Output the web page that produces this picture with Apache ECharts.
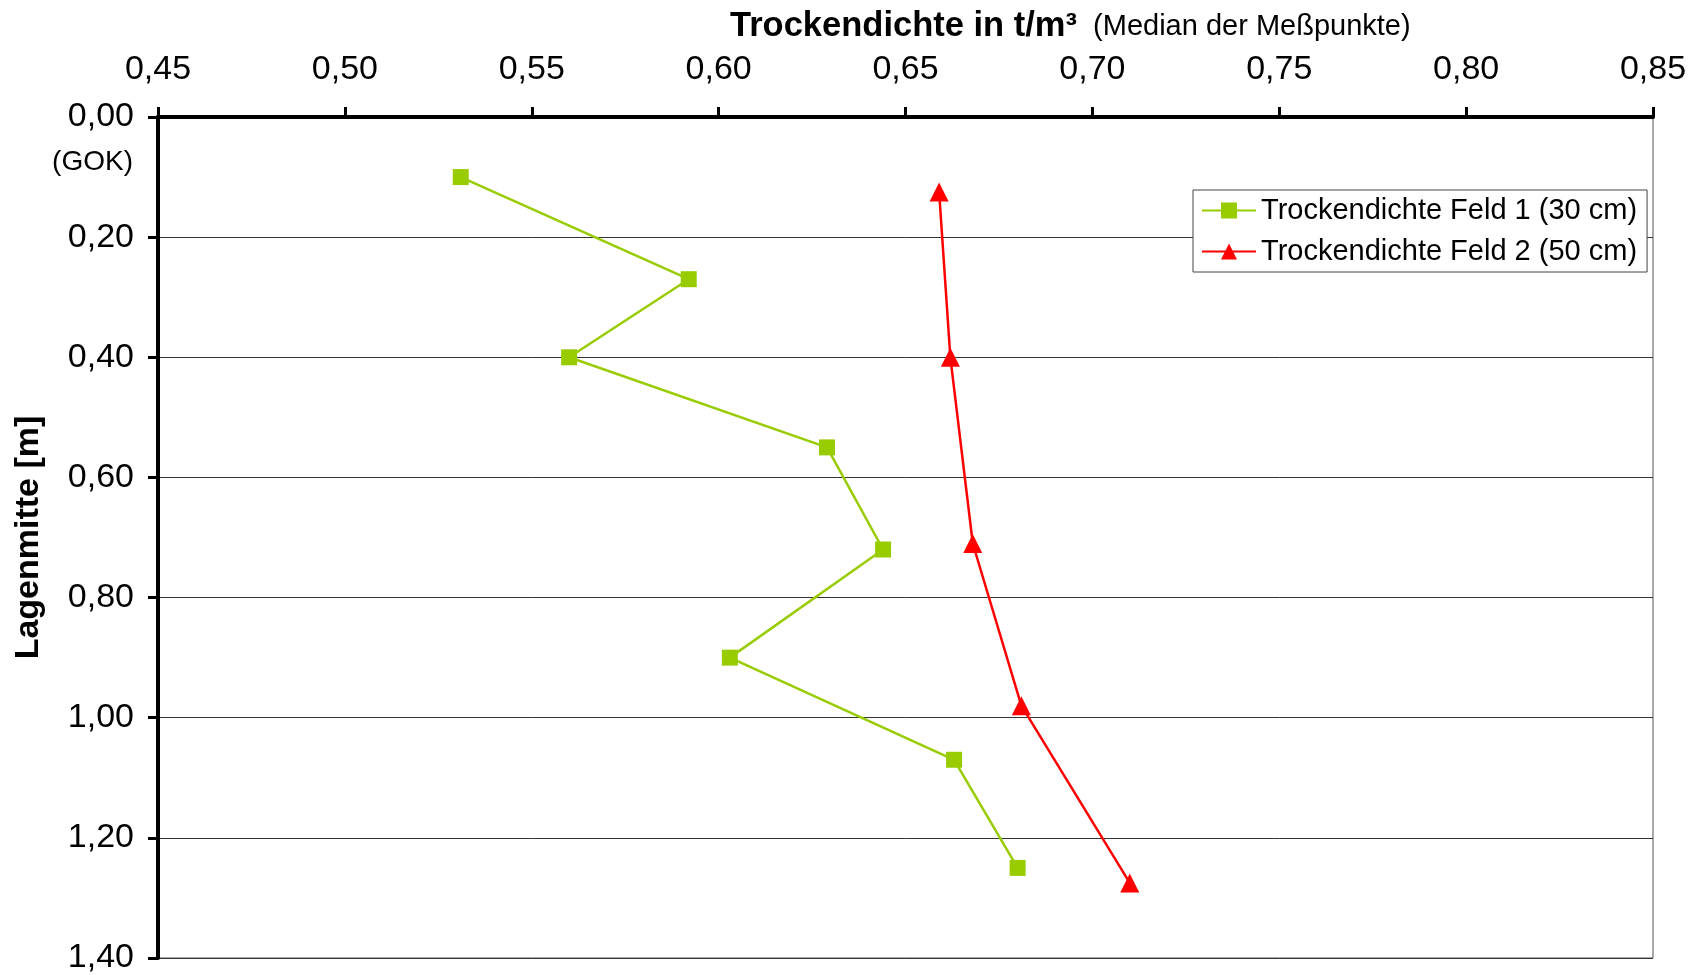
<!DOCTYPE html>
<html>
<head>
<meta charset="utf-8">
<script src="https://cdn.jsdelivr.net/npm/echarts@6/dist/echarts.min.js"></script>
<style>
  html, body { margin: 0; padding: 0; background: #fff; }
  #chart { width: 1697px; height: 975px; }
</style>
</head>
<body>
<div id="chart"></div>
<script>
// Dry density (t/m³) per layer mid-depth (m)
const depthFeld1 = [0.10, 0.27, 0.40, 0.55, 0.72, 0.90, 1.07, 1.25];
const densityFeld1 = [0.531, 0.592, 0.560, 0.629, 0.644, 0.603, 0.663, 0.680];
const depthFeld2 = [0.125, 0.40, 0.71, 0.98, 1.275];
const densityFeld2 = [0.659, 0.662, 0.668, 0.681, 0.710];

const seriesNames = ['Trockendichte Feld 1 (30 cm)', 'Trockendichte Feld 2 (50 cm)'];
const xTitle = 'Trockendichte in t/m³';
const xSubtitle = '(Median der Meßpunkte)';
const yTitle = 'Lagenmitte [m]';
const surfaceLabel = '(GOK)';

const FONT = '"Liberation Sans", Arial, sans-serif';
const fmt = v => v.toFixed(2).replace('.', ',');
const pairs = (xs, ys) => xs.map((x, i) => [x, ys[i]]);

const chart = echarts.init(document.getElementById('chart'));
chart.setOption({
  backgroundColor: '#fff',
  animation: false,
  textStyle: { fontFamily: FONT },
  title: {
    text: '{b|' + xTitle + '}{n|  ' + xSubtitle + '}',
    left: 725,
    top: 4,
    textStyle: {
      fontWeight: 'normal',
      rich: {
        b: { fontFamily: FONT, fontWeight: 'bold', fontSize: 34.5, color: '#000' },
        n: { fontFamily: FONT, fontWeight: 'normal', fontSize: 29, color: '#000' }
      }
    }
  },
  grid: {
    left: 158, right: 44, top: 117, bottom: 17,
    show: true, borderColor: '#555', borderWidth: 1
  },
  legend: {
    orient: 'vertical',
    left: 1193, top: 190,
    padding: [6, 10, 6, 8],
    itemGap: 12,
    itemWidth: 54,
    itemHeight: 20,
    backgroundColor: '#fff',
    borderColor: '#444',
    borderWidth: 1,
    textStyle: { fontFamily: FONT, fontSize: 29, color: '#000' },
    data: seriesNames
  },
  xAxis: {
    type: 'value',
    position: 'top',
    min: 0.45, max: 0.85, interval: 0.05,
    axisLine: { show: true, lineStyle: { color: '#000', width: 4 } },
    axisTick: { show: true, inside: false, length: 10, lineStyle: { color: '#000', width: 3 } },
    axisLabel: { fontFamily: FONT, fontSize: 34, color: '#000', margin: 30, formatter: fmt },
    splitLine: { show: false }
  },
  yAxis: {
    type: 'value',
    inverse: true,
    min: 0, max: 1.4, interval: 0.2,
    name: yTitle,
    nameLocation: 'middle',
    nameRotate: 90,
    nameGap: 112,
    nameTextStyle: { fontFamily: FONT, fontWeight: 'bold', fontSize: 34, color: '#000' },
    axisLine: { show: true, lineStyle: { color: '#000', width: 4 } },
    axisTick: { show: true, length: 10, lineStyle: { color: '#000', width: 3 } },
    axisLabel: { fontFamily: FONT, fontSize: 34, color: '#000', margin: 24, formatter: fmt },
    splitLine: { show: true, lineStyle: { color: '#333', width: 1 } }
  },
  graphic: [{
    type: 'text',
    right: 1697 - 133,
    top: 148,
    style: { text: surfaceLabel, font: '28px ' + FONT, fill: '#000' }
  }],
  series: [
    {
      name: seriesNames[0],
      type: 'line',
      data: pairs(densityFeld1, depthFeld1),
      symbol: 'rect',
      symbolSize: 16,
      color: '#99CC00',
      lineStyle: { color: '#99CC00', width: 2.5 },
      itemStyle: { color: '#99CC00' }
    },
    {
      name: seriesNames[1],
      type: 'line',
      data: pairs(densityFeld2, depthFeld2),
      symbol: 'triangle',
      symbolSize: 19,
      color: '#FF0000',
      lineStyle: { color: '#FF0000', width: 2.5 },
      itemStyle: { color: '#FF0000' }
    }
  ]
});
</script>
</body>
</html>
